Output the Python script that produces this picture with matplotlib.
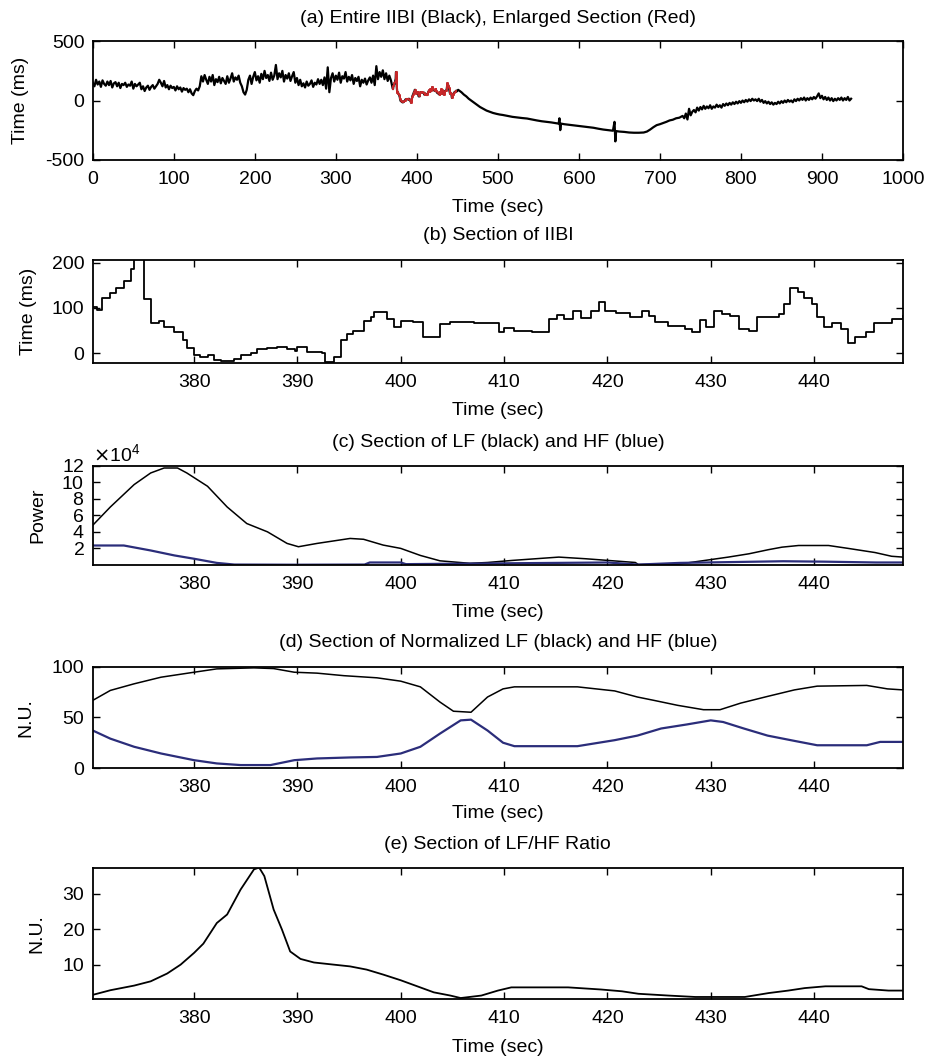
import numpy as np
import matplotlib
matplotlib.use("Agg")
import matplotlib.pyplot as plt
from matplotlib.ticker import ScalarFormatter

plt.rcParams['font.family'] = ['Liberation Sans', 'DejaVu Sans']
plt.rcParams['font.size'] = 14
plt.rcParams['axes.unicode_minus'] = False

BLUE = '#2b2d7a'
RED = '#c8282a'

# ---- (a) entire IIBI: first 370 s sampled every 2 s ----
head_t = np.arange(0, 370, 2)
head_v = [150, 120, 175, 135, 160, 115, 170, 140, 125, 160,
          130, 165, 110, 145, 155, 120, 150, 105, 140, 130,
          150, 115, 135, 125, 160, 100, 140, 120, 135, 150,
          95, 120, 80, 110, 125, 90, 115, 130, 100, 120,
          140, 175, 150, 120, 165, 110, 130, 95, 125, 105,
          115, 85, 120, 95, 110, 75, 105, 90, 100, 70,
          95, 60, 45, 80, 100, 85, 120, 205, 160, 215,
          175, 140, 200, 160, 215, 130, 180, 155, 200, 145,
          190, 165, 140, 205, 150, 185, 230, 160, 195, 175,
          210, 150, 120, 70, 50, 90, 175, 210, 140, 200,
          240, 170, 205, 150, 225, 180, 250, 190, 215, 165,
          235, 175, 210, 300, 180, 230, 195, 250, 160, 215,
          185, 230, 165, 205, 240, 150, 190, 130, 175, 120,
          145, 110, 160, 125, 140, 170, 115, 150, 135, 180,
          140, 175, 130, 195, 100, 280, 70, 190, 230, 160,
          210, 175, 235, 150, 205, 185, 240, 160, 200, 170,
          215, 140, 190, 165, 200, 120, 175, 150, 185, 135,
          170, 195, 150, 210, 130, 290, 180, 240, 200, 255,
          180, 230, 165, 210, 170]

# after the enlarged section
tail_t = [449, 451, 453, 455, 458, 461, 464, 467, 470, 474, 478, 482, 486, 490,
          494, 498, 502, 506, 512, 518, 524, 530, 536, 542, 548, 554, 560, 566,
          572, 575, 576, 577, 578, 582, 588, 594, 600, 606, 612, 618, 624, 630,
          636, 642, 644, 645, 646, 650, 656, 662, 668, 674, 680, 684, 688, 692,
          696, 700, 704, 708, 712, 716, 720, 724, 728, 730, 732, 734, 736, 738,
          740, 742]
tail_v = [75, 90, 80, 70, 50, 35, 15, 0, -15, -35, -55, -70, -85, -95,
          -105, -112, -118, -122, -130, -138, -143, -148, -152, -160, -168, -175, -180, -185,
          -192, -195, -150, -250, -195, -200, -205, -210, -215, -220, -225, -230, -238, -245,
          -250, -255, -180, -345, -258, -262, -265, -270, -272, -272, -270, -262, -245, -225,
          -208, -200, -190, -180, -168, -162, -150, -145, -130, -150, -110, -160, -70, -125,
          -95, -80]
end_t = np.arange(744, 938, 2)
end_v = [-100, -60, -85, -55, -75, -45, -70, -50, -65, -40,
         -70, -50, -60, -35, -55, -40, -60, -30, -45, -25,
         -40, -20, -35, -15, -30, -10, -25, -5, -20, 0,
         -15, 5, -10, 10, -5, 15, 0, 10, -5, 15,
         -10, 5, -20, -5, -25, -10, -30, -15, -35, -20,
         -30, -10, -25, -5, -20, 0, -15, 5, -10, 0,
         -15, 10, -5, 15, 0, 20, 5, 25, 0, 20,
         5, 25, 10, 30, 15, 35, 60, 20, 40, 10,
         30, 5, 25, 0, 20, -5, 15, 0, 20, 5,
         25, 0, 20, 5, 30, 0, 15]

# ---- (b) section of IIBI (step trace) ----
sec_t = [370.2, 370.6, 371.1, 371.9, 372.4, 373.2, 373.9, 374.2, 374.7, 375.2,
         375.8, 376.6, 377.1, 378.1, 378.9, 379.3, 380.0, 380.6, 381.3, 381.9,
         382.6, 383.9, 384.5, 385.5, 386.1, 387.1, 388.0, 389.0, 389.8, 390.0,
         390.8, 390.9, 392.4, 392.7, 393.5, 394.2, 394.8, 395.4, 396.4, 397.1,
         397.4, 398.0, 398.7, 399.3, 400.0, 401.2, 402.2, 403.5, 403.8, 404.8,
         407.1, 409.2, 409.5, 410.0, 411.0, 412.7, 414.3, 415.1, 415.8, 416.7,
         417.4, 418.4, 419.2, 419.8, 420.8, 422.2, 423.3, 424.0, 424.6, 425.9,
         427.5, 428.2, 429.0, 429.5, 430.3, 431.1, 431.9, 432.7, 433.7, 434.5,
         436.6, 437.1, 437.7, 438.4, 439.0, 439.8, 440.3, 441.0, 441.7, 442.6,
         443.3, 444.0, 445.0, 445.8, 447.5, 448.6]
sec_v = [101, 96, 122, 134, 144, 160, 185, 240, 240, 120,
         66, 72, 58, 46, 29, 12, -4, -7, -4, -14,
         -16, -12, -4, 0, 10, 12, 13, 10, 5, 15,
         13, 3, 0, -18, -7, 29, 43, 50, 71, 79,
         90, 90, 76, 58, 71, 68, 35, 35, 65, 70,
         66, 66, 47, 56, 50, 46, 76, 85, 75, 94,
         78, 94, 114, 94, 88, 80, 94, 83, 68, 61,
         53, 47, 73, 57, 94, 87, 83, 53, 50, 79,
         86, 108, 144, 135, 123, 108, 79, 57, 66, 53,
         22, 36, 47, 66, 75, 83]

# ---- (c) LF / HF power ----
lf_t = [370.2, 371.9, 374.2, 375.8, 377.1, 378.4, 379.3, 381.3, 383.2, 385.1,
        387.1, 389.0, 390.1, 391.9, 393.5, 395.1, 396.4, 398.3, 400.0, 401.9,
        403.8, 406.7, 408.4, 410.8, 415.3, 417.9, 422.7, 423.0, 426.9, 431.7,
        433.7, 435.6, 436.9, 438.5, 441.4, 443.3, 445.9, 447.5, 448.6]
lf_p = [48000, 70000, 97000, 111000, 117000, 117000, 111000, 95000, 70000, 50000,
        40000, 26000, 22000, 26000, 29000, 32000, 31000, 24000, 20000, 11500,
        5000, 2000, 3000, 5500, 9500, 7500, 3000, 500, 1000, 9500,
        13500, 18500, 21500, 23500, 23500, 20000, 15000, 10500, 9500]
hf_t = [370.2, 373.2, 375.8, 378.1, 380.0, 382.2, 383.9, 390.0, 396.5, 397.0,
        400.0, 400.5, 410.0, 420.0, 423.0, 427.0, 432.0, 437.0, 441.0, 446.0,
        448.6]
hf_p = [23500, 23500, 17500, 11500, 7500, 2500, 500, 300, 500, 3000,
        3000, 1000, 2000, 3000, 500, 2500, 3500, 4500, 4000, 3000,
        3000]

# ---- (d) normalized LF / HF ----
nlf_t = [370.2, 371.9, 374.2, 376.8, 380.0, 382.2, 385.8, 387.7, 389.7, 391.9,
         394.5, 397.7, 400.0, 401.9, 403.8, 405.1, 406.8, 408.4, 409.9, 411.0,
         417.1, 420.7, 422.9, 424.5, 426.8, 429.3, 430.9, 432.9, 435.5, 438.1,
         440.3, 445.1, 447.1, 448.6]
nlf_v = [66.7, 76.5, 83, 89.5, 94.4, 97.7, 98.7, 98, 94.4, 93.5,
         91, 88.9, 85.6, 80, 65, 56, 55, 70, 78, 80,
         80, 76, 70, 66.7, 61.8, 57.5, 57.5, 64, 70.6, 77,
         80.7, 81.4, 78, 77]
nhf_t = [370.2, 371.9, 374.2, 376.8, 380.0, 382.2, 384.5, 387.4, 389.7, 391.9,
         395.1, 397.7, 400.0, 401.9, 403.8, 405.8, 406.8, 408.4, 409.9, 411.0,
         417.1, 420.7, 422.9, 425.2, 427.7, 430.0, 431.2, 433.2, 435.5, 438.1,
         440.3, 445.1, 446.4, 448.6]
nhf_v = [37, 29, 21, 14.4, 7.8, 4.6, 3, 3, 7.8, 9.5,
         10.5, 11, 14.4, 21, 34, 47, 47.7, 37, 25, 21.6,
         21.6, 27.5, 32, 39, 43, 47, 45.4, 39, 32, 26.8,
         22.5, 22.5, 25.8, 25.8]

# ---- (e) LF/HF ratio ----
ratio_t = [370.2, 371.9, 374.2, 375.8, 377.4, 378.7, 380.0, 380.9, 382.2, 383.2,
           384.5, 385.8, 386.3, 386.8, 387.7, 388.5, 389.3, 390.3, 391.6, 393.5,
           395.1, 396.7, 398.3, 400.0, 401.6, 403.2, 404.8, 405.8, 407.8, 409.4,
           410.7, 416.2, 419.4, 421.4, 423.0, 425.9, 428.5, 433.3, 435.6, 437.5,
           439.1, 441.1, 444.6, 445.3, 447.2, 448.6]
ratio_v = [1.5, 2.8, 4.1, 5.3, 7.5, 10, 13.3, 15.9, 21.7, 24.1,
           31.1, 36.8, 37.3, 34.9, 25.5, 19.9, 13.7, 11.6, 10.6, 10,
           9.5, 8.6, 7.2, 5.6, 3.9, 2.2, 1.3, 0.6, 1.3, 2.7,
           3.6, 3.6, 3.0, 2.5, 1.8, 1.3, 0.9, 0.9, 2.0, 2.7,
           3.4, 3.9, 3.9, 3.1, 2.7, 2.7]

sec_ticks = [380, 390, 400, 410, 420, 430, 440]
xsec = (370.2, 448.6)


def style(ax, title, ylabel, ty, xly, ylx):
    ax.tick_params(direction='in', top=True, right=True, length=5, width=1,
                   labelsize=14, pad=6)
    ax.tick_params(axis='x', pad=8)
    for s in ax.spines.values():
        s.set_linewidth(1.3)
    ax.text(0.5, ty, title, transform=ax.transAxes, ha='center', va='center', fontsize=14)
    ax.set_xlabel('Time (sec)', fontsize=14)
    ax.xaxis.set_label_coords(0.5, xly)
    ax.set_ylabel(ylabel, fontsize=14)
    ax.yaxis.set_label_coords(ylx, 0.5)


fig = plt.figure(figsize=(9.28, 10.58), dpi=100)
L, W = 0.100, 0.873

# (a)
ax = fig.add_axes([L, 0.849, W, 0.112])
full_t = list(head_t) + sec_t + tail_t + list(end_t)
full_v = head_v + sec_v + tail_v + end_v
ax.plot(full_t, full_v, color='black', lw=1.6)
ax.step(sec_t, sec_v, where='post', color=RED, lw=1.4)
ax.set_xlim(0, 1000)
ax.set_ylim(-500, 500)
ax.set_xticks(range(0, 1001, 100))
ax.set_yticks([-500, 0, 500])
style(ax, '(a) Entire IIBI (Black), Enlarged Section (Red)', 'Time (ms)', 1.19, -0.33, -0.079)

# (b)
ax = fig.add_axes([L, 0.657, W, 0.097])
ax.step(sec_t, sec_v, where='post', color='black', lw=1.3)
ax.set_xlim(*xsec)
ax.set_ylim(-21, 205)
ax.set_xticks(sec_ticks)
ax.set_yticks([0, 100, 200])
style(ax, '(b) Section of IIBI', 'Time (ms)', 1.245, -0.38, -0.069)

# (c)
ax = fig.add_axes([L, 0.466, W, 0.094])
ax.plot(lf_t, lf_p, color='black', lw=1.1)
ax.plot(hf_t, hf_p, color=BLUE, lw=1.6)
ax.set_xlim(*xsec)
ax.set_ylim(0, 120000)
ax.set_xticks(sec_ticks)
ax.set_yticks(range(20000, 120001, 20000))
fmt = ScalarFormatter(useMathText=True)
fmt.set_powerlimits((4, 4))
ax.yaxis.set_major_formatter(fmt)
ax.yaxis.get_offset_text().set_fontsize(14)
style(ax, '(c) Section of LF (black) and HF (blue)', 'Power', 1.235, -0.39, -0.057)

# (d)
ax = fig.add_axes([L, 0.274, W, 0.096])
ax.plot(nlf_t, nlf_v, color='black', lw=1.1)
ax.plot(nhf_t, nhf_v, color=BLUE, lw=1.6)
ax.set_xlim(*xsec)
ax.set_ylim(0, 100)
ax.set_xticks(sec_ticks)
ax.set_yticks([0, 50, 100])
style(ax, '(d) Section of Normalized LF (black) and HF (blue)', 'N.U.', 1.235, -0.36, -0.072)

# (e)
ax = fig.add_axes([L, 0.056, W, 0.124])
ax.plot(ratio_t, ratio_v, color='black', lw=1.3)
ax.set_xlim(*xsec)
ax.set_ylim(0.4, 37.3)
ax.set_xticks(sec_ticks)
ax.set_yticks([10, 20, 30])
style(ax, '(e) Section of LF/HF Ratio', 'N.U.', 1.176, -0.305, -0.059)

fig.savefig('out.png', dpi=100)
